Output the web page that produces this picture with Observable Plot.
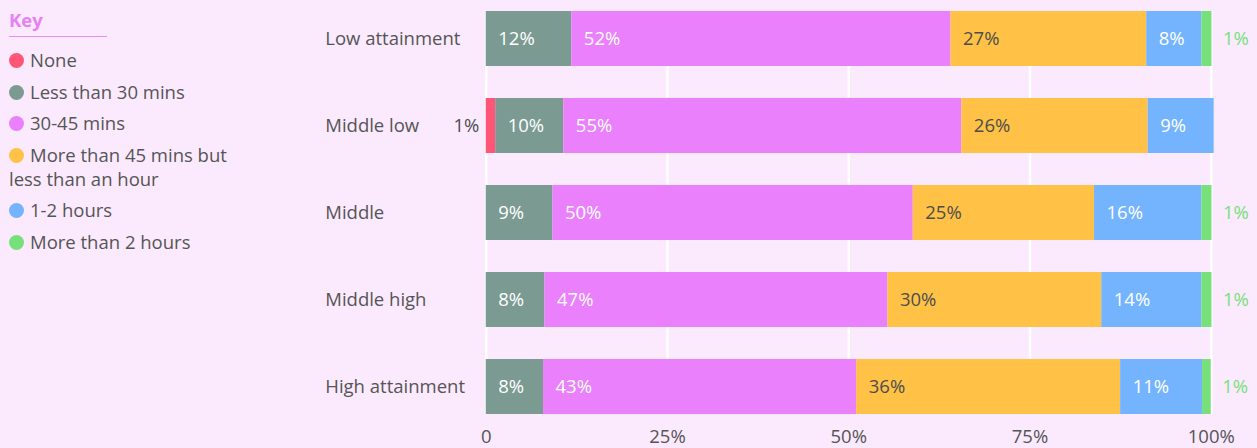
<!DOCTYPE html>
<html>
<head>
<meta charset="utf-8">
<script src="https://cdn.jsdelivr.net/npm/d3@7"></script>
<script src="https://cdn.jsdelivr.net/npm/@observablehq/plot@0.6"></script>
<style>
  html, body { margin: 0; padding: 0; background: #fbeafd; }
  body { width: 1257px; height: 448px; position: relative; overflow: hidden; font-family: "Open Sans", "Noto Sans", sans-serif; color: #555; }
  #key { position: absolute; left: 9px; top: 8px; width: 250px; font-size: 18.5px; line-height: 24px; }
  #key .title { color: #e880f5; font-weight: bold; font-size: 18.5px; line-height: 24px; width: 98px; border-bottom: 1.5px solid #ec8cf7; padding-bottom: 4px; margin-bottom: 11px; }
  #key .item { margin-bottom: 7.5px; }
  #key .dot { display: inline-block; width: 15px; height: 15px; border-radius: 50%; vertical-align: -1px; margin-right: 6px; }
  #chart { position: absolute; left: 0; top: 0; }
</style>
</head>
<body>
<div id="key"></div>
<div id="chart"></div>
<script>
// Categories (rows)
const categories = ["Low attainment", "Middle low", "Middle", "Middle high", "High attainment"];
// Series (stack order)
const series = ["None", "Less than 30 mins", "30-45 mins", "More than 45 mins but less than an hour", "1-2 hours", "More than 2 hours"];
const colors = ["#ff5577", "#7b9a91", "#ea80fc", "#ffc247", "#74b4fe", "#77e07a"];

// Bar lengths (% share, as drawn)
const none       = [0,    1.3,  0,    0,    0];
const under30    = [11.8, 9.4,  9.2,  8.1,  7.9];
const mins30to45 = [52.3, 54.9, 49.7, 47.3, 43.2];
const over45     = [27.0, 25.7, 25.0, 29.5, 36.4];
const hours1to2  = [7.6,  9.1,  14.8, 13.8, 11.3];
const over2      = [1.4,  0,    1.4,  1.4,  1.2];

// Printed labels (%)
const noneLabel       = [0, 1, 0, 0, 0];
const under30Label    = [12, 10, 9, 8, 8];
const mins30to45Label = [52, 55, 50, 47, 43];
const over45Label     = [27, 26, 25, 30, 36];
const hours1to2Label  = [8, 9, 16, 14, 11];
const over2Label      = [1, 0, 1, 1, 1];

// X axis ticks
const xTicks = [0, 25, 50, 75, 100];

const valueLists = [none, under30, mins30to45, over45, hours1to2, over2];
const labelLists = [noneLabel, under30Label, mins30to45Label, over45Label, hours1to2Label, over2Label];

const data = [];
categories.forEach((cat, i) => {
  series.forEach((s, j) => {
    data.push({cat, series: s, value: valueLists[j][i], label: labelLists[j][i] + "%"});
  });
});

const whiteSeries = ["Less than 30 mins", "30-45 mins", "1-2 hours"];
const darkSeries = ["More than 45 mins but less than an hour"];

const stackOpts = {x: "value", y: "cat"};
const FS = 18.5;

const plot = Plot.plot({
  width: 1257,
  height: 448,
  marginLeft: 485.75,
  marginRight: 46.25,
  marginTop: 11,
  marginBottom: 34,
  style: {fontFamily: "'Open Sans', 'Noto Sans', sans-serif", fontSize: FS + "px", color: "#555", background: "transparent"},
  x: {domain: [0, 100]},
  y: {domain: categories, paddingInner: 0.368, paddingOuter: 0},
  color: {domain: series, range: colors},
  marks: [
    Plot.gridX(xTicks, {stroke: "#ffffff", strokeOpacity: 1, strokeWidth: 2.5}),
    Plot.barX(data, {...stackOpts, fill: "series"}),
    Plot.text(data, Plot.stackX1({...stackOpts,
      text: d => whiteSeries.includes(d.series) && d.value > 0 ? d.label : null,
      textAnchor: "start", dx: 12, fill: "#ffffff", fontSize: FS})),
    Plot.text(data, Plot.stackX1({...stackOpts,
      text: d => darkSeries.includes(d.series) && d.value > 0 ? d.label : null,
      textAnchor: "start", dx: 12, fill: "#4d4d4d", fontSize: FS})),
    Plot.text(data, Plot.stackX1({...stackOpts,
      text: d => d.series === "None" && d.value > 0 ? d.label : null,
      textAnchor: "end", dx: -7, fill: "#4d4d4d", fontSize: FS})),
    Plot.text(data, Plot.stackX2({...stackOpts,
      text: d => d.series === "More than 2 hours" && d.value > 0 ? d.label : null,
      textAnchor: "start", dx: 11, fill: "#77e07a", fontSize: FS})),
    Plot.axisX({ticks: xTicks, tickSize: 0, tickPadding: 15, tickFormat: d => d === 0 ? "0" : d + "%", fontSize: FS, fill: "#555", label: null}),
    Plot.axisY({tickSize: 0, tickPadding: 0, textAnchor: "start", dx: -161, fontSize: FS, fill: "#555", label: null})
  ]
});
document.getElementById("chart").appendChild(plot);

// Legend
const key = d3.select("#key");
key.append("div").attr("class", "title").text("Key");
series.forEach((s, j) => {
  const item = key.append("div").attr("class", "item");
  item.append("span").attr("class", "dot").style("background", colors[j]);
  item.append("span").text(s);
});
</script>
</body>
</html>
